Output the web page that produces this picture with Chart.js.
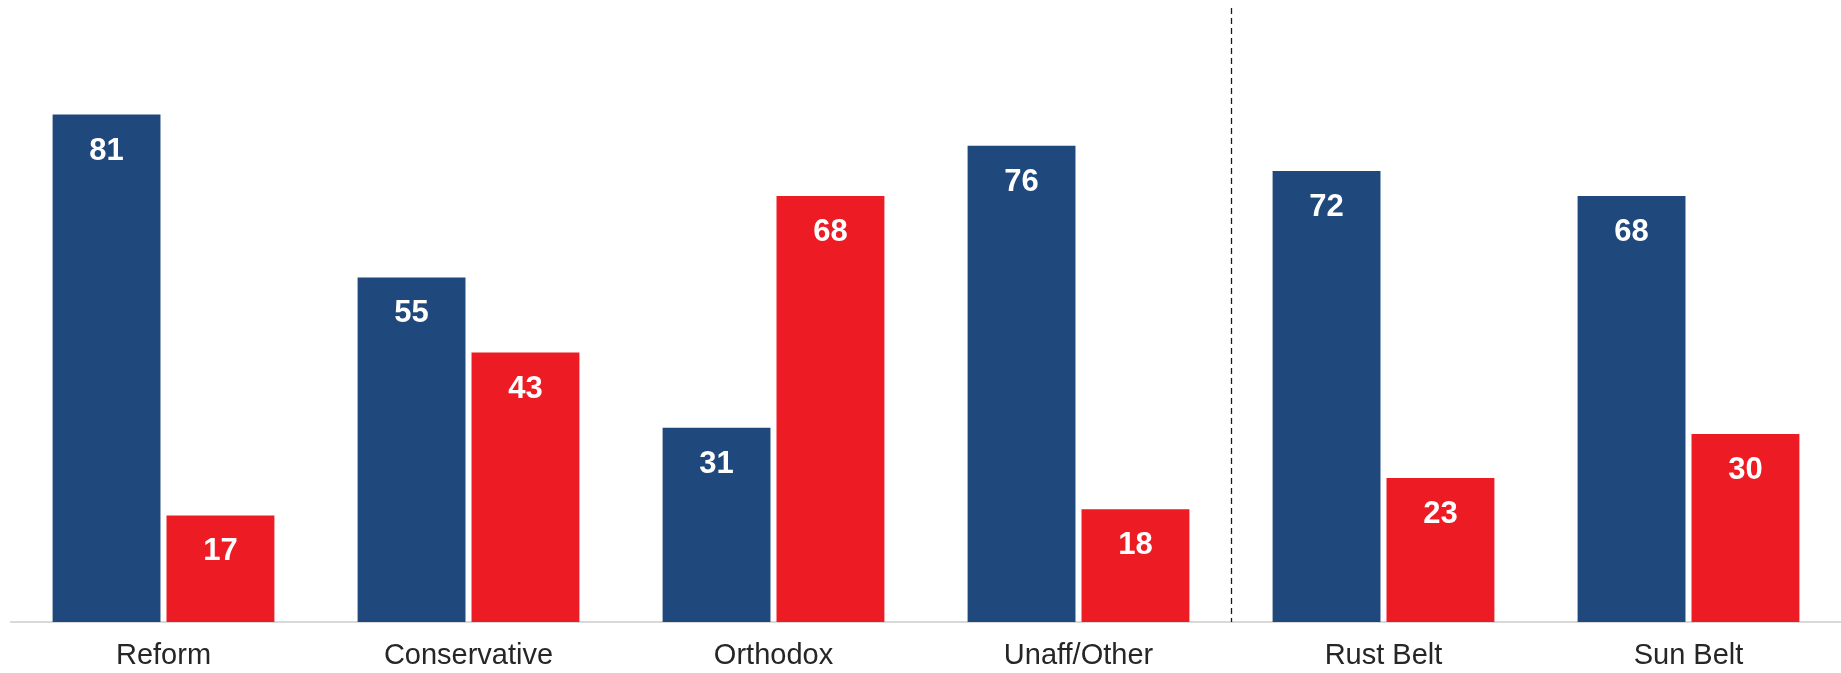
<!DOCTYPE html>
<html>
<head>
<meta charset="utf-8">
<script src="https://cdn.jsdelivr.net/npm/chart.js@4/dist/chart.umd.min.js"></script>
<style>
  html, body { margin: 0; padding: 0; background: #fff; }
  #wrap { width: 1841px; height: 673px; position: relative; }
</style>
</head>
<body>
<div id="wrap"><canvas id="chart"></canvas></div>
<script>
const categories = ["Reform", "Conservative", "Orthodox", "Unaff/Other", "Rust Belt", "Sun Belt"];
const blueValues = [81, 55, 31, 76, 72, 68];
const redValues = [17, 43, 68, 18, 23, 30];

// white numbers inside the top of each bar
const barLabels = {
  id: "barLabels",
  afterDatasetsDraw(chart) {
    const ctx = chart.ctx;
    ctx.save();
    ctx.fillStyle = "#ffffff";
    ctx.font = "bold 31px 'Liberation Sans', Arial, sans-serif";
    ctx.textAlign = "center";
    ctx.textBaseline = "alphabetic";
    chart.data.datasets.forEach((ds, i) => {
      chart.getDatasetMeta(i).data.forEach((bar, j) => {
        ctx.fillText(String(ds.data[j]), bar.x, bar.y + 45);
      });
    });
    ctx.restore();
  }
};

// dotted divider between the denomination groups and the regions
const divider = {
  id: "divider",
  afterDatasetsDraw(chart) {
    const x = chart.scales.x;
    const px = (x.getPixelForValue(3) + x.getPixelForValue(4)) / 2;
    const ctx = chart.ctx;
    ctx.save();
    ctx.strokeStyle = "#1a1a1a";
    ctx.lineWidth = 1.3;
    ctx.setLineDash([6, 4]);
    ctx.beginPath();
    ctx.moveTo(Math.round(px) + 0.5, chart.chartArea.top);
    ctx.lineTo(Math.round(px) + 0.5, chart.chartArea.bottom);
    ctx.stroke();
    ctx.restore();
  }
};

new Chart(document.getElementById("chart"), {
  type: "bar",
  data: {
    labels: categories,
    datasets: [
      { data: blueValues, backgroundColor: "#1F497D", borderWidth: 0 },
      { data: redValues, backgroundColor: "#ED1C24", borderWidth: 0 }
    ]
  },
  options: {
    responsive: true,
    maintainAspectRatio: false,
    animation: false,
    categoryPercentage: 0.747,
    barPercentage: 0.947,
    layout: { padding: { top: 8, left: 11, right: 0, bottom: 0 } },
    plugins: { legend: { display: false }, tooltip: { enabled: false } },
    scales: {
      x: {
        grid: { display: false, drawTicks: false },
        border: { color: "#d9d9d9", width: 2 },
        afterFit(scale) { scale.height = 51; },
        ticks: {
          color: "#262626",
          padding: 17,
          font: { family: "'Liberation Sans', Arial, sans-serif", size: 29 }
        }
      },
      y: { display: false, min: 0, max: 98 }
    }
  },
  plugins: [barLabels, divider]
});
</script>
</body>
</html>
